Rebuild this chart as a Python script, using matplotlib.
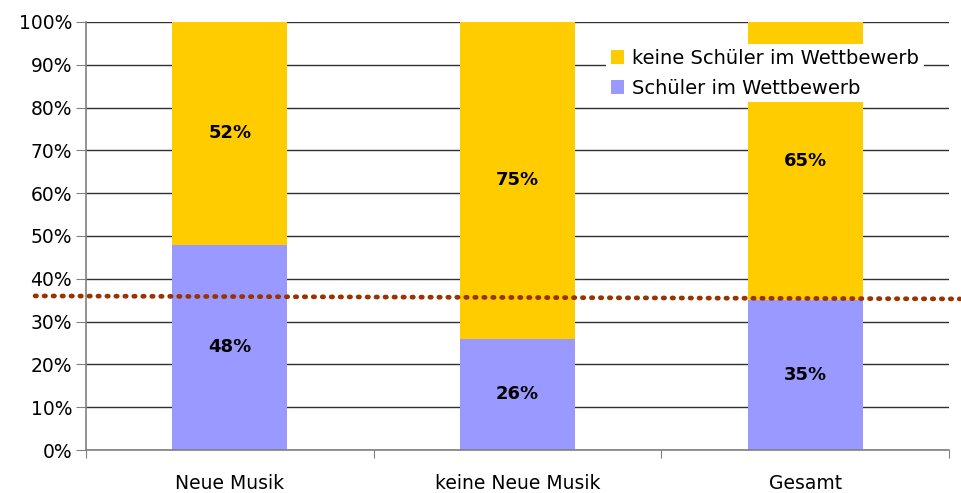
import matplotlib
matplotlib.use('Agg')
import matplotlib.pyplot as plt
from matplotlib.ticker import PercentFormatter

# wide face to get close to the stretched Arial of the original
plt.rcParams['font.family'] = ['DejaVu Sans']

categories = ['Neue Musik', 'keine Neue Musik', 'Gesamt']
schueler = [0.48, 0.26, 0.35]
keine_schueler = [0.52, 0.75, 0.65]
schueler_labels = ['48%', '26%', '35%']
keine_labels = ['52%', '75%', '65%']

# dotted reference line (runs slightly past the plot on both sides)
ref_x = [-0.677, 2.538]
ref_y = [0.36, 0.353]

blue = '#9999FF'
yellow = '#FFCC00'

fig = plt.figure(figsize=(9.61, 4.93), dpi=100)
ax = fig.add_axes([0.0895, 0.0872, 0.898, 0.8682])

x = range(len(categories))
ax.bar(x, schueler, width=0.4, color=blue, label='Schüler im Wettbewerb', zorder=2)
ax.bar(x, keine_schueler, width=0.4, bottom=schueler, color=yellow,
       label='keine Schüler im Wettbewerb', zorder=2)

for i in x:
    ax.text(i, schueler[i] / 2, schueler_labels[i], ha='center', va='center',
            fontsize=13, fontweight='bold', zorder=3)
    top = min(schueler[i] + keine_schueler[i], 1.0)
    ax.text(i, (schueler[i] + top) / 2, keine_labels[i], ha='center', va='center',
            fontsize=13, fontweight='bold', zorder=3)

ax.plot(ref_x, ref_y, linestyle=(0, (0.3, 1.6)), dash_capstyle='round',
        color='#993300', linewidth=3.4, clip_on=False, zorder=4)

ax.set_xlim(-0.5, 2.5)
ax.set_ylim(0, 1)
ax.yaxis.set_major_formatter(PercentFormatter(1.0, decimals=0))
ax.set_yticks([i / 10 for i in range(11)])
ax.yaxis.grid(True, color='#303030', linewidth=1, zorder=0)
ax.set_axisbelow(True)

ax.set_xticks([-0.5, 0.5, 1.5, 2.5])
ax.set_xticklabels([])
ax.set_xticks(list(x), minor=True)
ax.set_xticklabels(categories, minor=True)
ax.tick_params(axis='x', which='minor', length=0, pad=17, labelsize=13.5)
ax.tick_params(axis='x', which='major', length=6, color='#808080')
ax.tick_params(axis='y', length=7, color='#808080', labelsize=13.5, pad=3)

for side in ['top', 'right']:
    ax.spines[side].set_visible(False)
for side in ['left', 'bottom']:
    ax.spines[side].set_color('#808080')
    ax.spines[side].set_linewidth(1.2)

handles, labels = ax.get_legend_handles_labels()
leg = ax.legend(handles[::-1], labels[::-1], loc='upper left',
                bbox_to_anchor=(0.6305, 0.9108), bbox_transform=fig.transFigure,
                fontsize=14, frameon=True, fancybox=False, framealpha=1,
                handlelength=0.7, handleheight=0.7, handletextpad=0.4,
                labelspacing=0.55, borderpad=0.25, borderaxespad=0)
leg.get_frame().set_edgecolor('white')
leg.get_frame().set_linewidth(0)
leg.set_zorder(5)

plt.savefig('out.png', dpi=100)
plt.close()
